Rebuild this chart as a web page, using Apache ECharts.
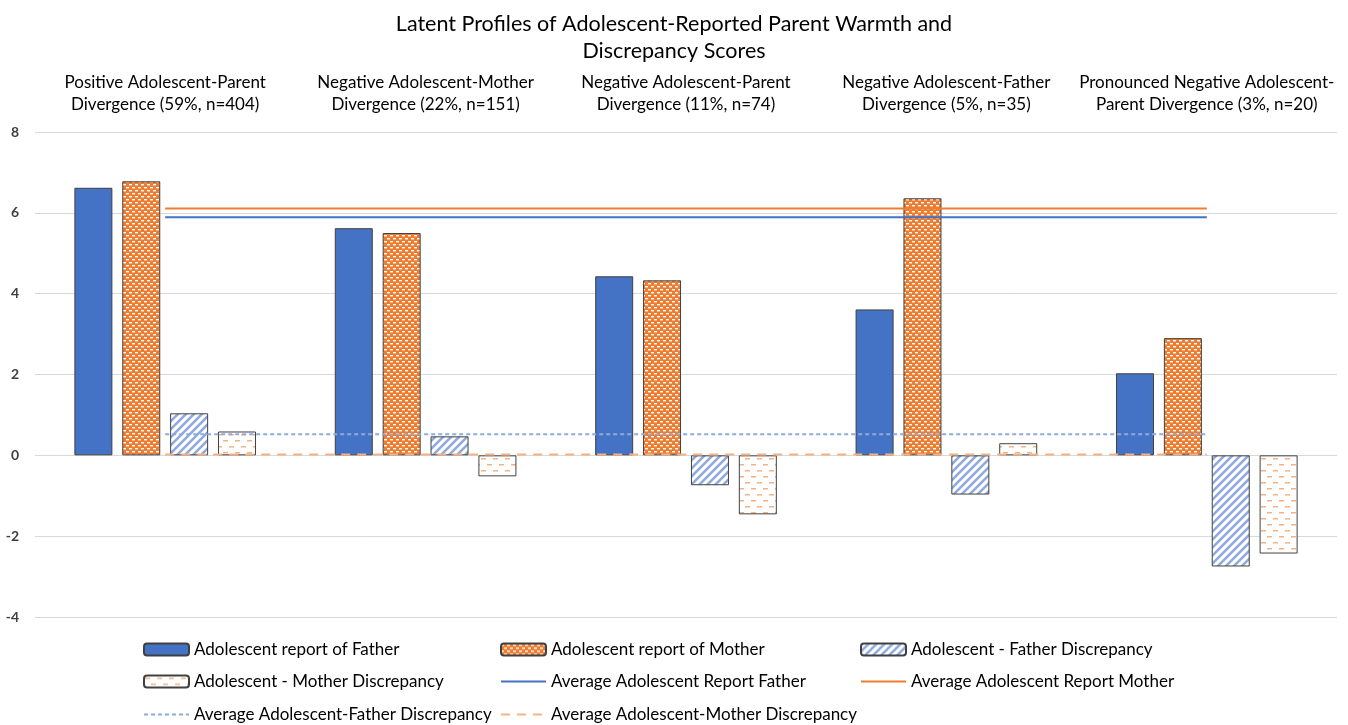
<!DOCTYPE html>
<html>
<head>
<meta charset="utf-8">
<script src="https://cdn.jsdelivr.net/npm/echarts@6/dist/echarts.min.js"></script>
<style>
html,body{margin:0;padding:0;background:#fff;}
#chart{width:1348px;height:725px;}
</style>
</head>
<body>
<div id="chart"></div>
<script>
const titleText = 'Latent Profiles of Adolescent-Reported Parent Warmth and\nDiscrepancy Scores';
const categories = [
  'Positive Adolescent-Parent\nDivergence (59%, n=404)',
  'Negative Adolescent-Mother\nDivergence (22%, n=151)',
  'Negative Adolescent-Parent\nDivergence (11%, n=74)',
  'Negative Adolescent-Father\nDivergence (5%, n=35)',
  'Pronounced Negative Adolescent-\nParent Divergence (3%, n=20)'
];
const fatherReport = [6.62, 5.62, 4.43, 3.61, 2.03];
const motherReport = [6.78, 5.50, 4.33, 6.36, 2.90];
const fatherDiscrepancy = [1.04, 0.47, -0.74, -0.97, -2.75];
const motherDiscrepancy = [0.59, -0.52, -1.46, 0.30, -2.43];
const avgFatherReport = [5.89, 5.89, 5.89, 5.89, 5.89];
const avgMotherReport = [6.11, 6.11, 6.11, 6.11, 6.11];
const avgFatherDiscrepancy = [0.52, 0.52, 0.52, 0.52, 0.52];
const avgMotherDiscrepancy = [0.02, 0.02, 0.02, 0.02, 0.02];
const yTicks = {min: -4, max: 8, interval: 2};
const seriesNames = [
  'Adolescent report of Father',
  'Adolescent report of Mother',
  'Adolescent - Father Discrepancy',
  'Adolescent - Mother Discrepancy',
  'Average Adolescent Report Father',
  'Average Adolescent Report Mother',
  'Average Adolescent-Father Discrepancy',
  'Average Adolescent-Mother Discrepancy'
];

function makePattern(w, h, draw) {
  const c = document.createElement('canvas');
  c.width = w; c.height = h;
  const ctx = c.getContext('2d');
  draw(ctx, w, h);
  return {image: c, repeat: 'repeat'};
}
const motherPattern = makePattern(6, 6, (ctx, w, h) => {
  ctx.fillStyle = '#ED7D31'; ctx.fillRect(0, 0, w, h);
  ctx.fillStyle = '#ffffff';
  ctx.fillRect(0, 1, 3, 1.4);
  ctx.fillRect(3, 4, 3, 1.4);
});
const fatherDiscPattern = makePattern(8, 8, (ctx, w, h) => {
  ctx.fillStyle = '#ffffff'; ctx.fillRect(0, 0, w, h);
  ctx.strokeStyle = '#8FAADC'; ctx.lineWidth = 2.6;
  ctx.beginPath();
  ctx.moveTo(-2, 10); ctx.lineTo(10, -2);
  ctx.moveTo(-6, 6); ctx.lineTo(6, -6);
  ctx.moveTo(2, 14); ctx.lineTo(14, 2);
  ctx.stroke();
});
const motherDiscPattern = makePattern(12, 12, (ctx, w, h) => {
  ctx.fillStyle = '#ffffff'; ctx.fillRect(0, 0, w, h);
  ctx.fillStyle = '#F4B183';
  ctx.fillRect(1, 2, 5, 1.5);
  ctx.fillRect(7, 8, 5, 1.5);
});

const FONT = 'Lato';
const barCommon = {
  type: 'bar',
  barWidth: 38,
  barGap: '26%'
};
function lineSeries(name, data, color, dash) {
  return {
    name, type: 'line', data, symbol: 'none', showSymbol: false,
    lineStyle: {color, width: 2, type: dash},
    itemStyle: {color},
    z: 5
  };
}

// legend placement: [series index, left, top]
const legendSlots = [
  [0, 143, 641], [1, 500, 641], [2, 860, 641],
  [3, 143, 673], [4, 500, 673], [5, 860, 673],
  [6, 143, 706], [7, 500, 706]
];
const legends = legendSlots.map(([i, left, top]) => ({
  left, top, padding: 0, itemWidth: 45, itemHeight: 12, selectedMode: false,
  textStyle: {fontFamily: FONT, fontSize: 17, color: '#000'},
  data: [i >= 4 ? {name: seriesNames[i], itemStyle: {opacity: 0}} : {name: seriesNames[i]}]
}));

const chart = echarts.init(document.getElementById('chart'));
chart.setOption({
  animation: false,
  title: {
    text: titleText, left: 'center', top: 6,
    textStyle: {fontFamily: FONT, fontSize: 21.5, fontWeight: 'normal', color: '#000', lineHeight: 27}
  },
  legend: legends,
  grid: {left: 35, right: 11, top: 132, bottom: 108, containLabel: false},
  xAxis: {
    type: 'category', position: 'top', data: categories,
    axisLine: {show: false}, axisTick: {show: false},
    axisLabel: {interval: 0, fontFamily: FONT, fontSize: 17, color: '#000', lineHeight: 22, margin: 16}
  },
  yAxis: {
    type: 'value', min: yTicks.min, max: yTicks.max, interval: yTicks.interval,
    axisLine: {show: false}, axisTick: {show: false},
    axisLabel: {fontFamily: FONT, fontSize: 14, fontWeight: 'bold', color: '#404040', margin: 16},
    splitLine: {lineStyle: {color: '#d9d9d9', width: 1}}
  },
  series: [
    Object.assign({}, barCommon, {name: seriesNames[0], data: fatherReport,
      itemStyle: {color: '#4472C4', borderColor: '#404040', borderWidth: 1}}),
    Object.assign({}, barCommon, {name: seriesNames[1], data: motherReport,
      itemStyle: {color: motherPattern, borderColor: '#404040', borderWidth: 1}}),
    Object.assign({}, barCommon, {name: seriesNames[2], data: fatherDiscrepancy,
      itemStyle: {color: fatherDiscPattern, borderColor: '#404040', borderWidth: 1}}),
    Object.assign({}, barCommon, {name: seriesNames[3], data: motherDiscrepancy,
      itemStyle: {color: motherDiscPattern, borderColor: '#404040', borderWidth: 1}}),
    lineSeries(seriesNames[4], avgFatherReport, '#4472C4', 'solid'),
    lineSeries(seriesNames[5], avgMotherReport, '#ED7D31', 'solid'),
    lineSeries(seriesNames[6], avgFatherDiscrepancy, '#8FAADC', [4, 3]),
    lineSeries(seriesNames[7], avgMotherDiscrepancy, '#F4B183', [9, 7])
  ]
});
</script>
</body>
</html>
